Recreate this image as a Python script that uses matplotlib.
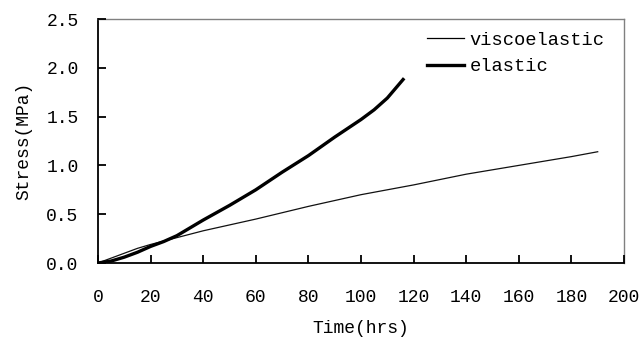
import matplotlib
matplotlib.use("Agg")
import matplotlib.pyplot as plt

visco_t = [0, 5, 10, 15, 20, 25, 30, 40, 50, 60, 80, 100, 120, 140, 160, 180, 190]
visco_s = [0, 0.05, 0.10, 0.15, 0.19, 0.225, 0.26, 0.33, 0.39, 0.45, 0.58, 0.70, 0.80, 0.91, 1.00, 1.09, 1.14]

elastic_t = [0, 5, 10, 15, 20, 25, 30, 35, 40, 45, 50, 55, 60, 65, 70, 75, 80, 85, 90, 95, 100, 105, 110, 116]
elastic_s = [0, 0.02, 0.06, 0.11, 0.17, 0.22, 0.28, 0.36, 0.44, 0.515, 0.59, 0.67, 0.75, 0.84, 0.93, 1.015, 1.10, 1.195, 1.29, 1.38, 1.47, 1.57, 1.69, 1.88]

xticks = [0, 20, 40, 60, 80, 100, 120, 140, 160, 180, 200]
yticks = [0.0, 0.5, 1.0, 1.5, 2.0, 2.5]

plt.rcParams['font.family'] = ['Liberation Mono', 'DejaVu Sans Mono']

fig = plt.figure(figsize=(6.42, 3.40), dpi=100)
ax = fig.add_axes([98/642, 1-263/340, (624-98)/642, (263-19)/340])

ax.plot(visco_t, visco_s, color='#111111', lw=0.9, label='viscoelastic')
ax.plot(elastic_t, elastic_s, color='black', lw=2.4, label='elastic')

ax.set_xlim(0, 200)
ax.set_ylim(0, 2.5)
ax.set_xticks(xticks, [str(v) for v in xticks])
ax.set_yticks(yticks, [f"{v:.1f}" for v in yticks])
ax.tick_params(axis='x', which='major', direction='in', length=0,
               labelsize=13, pad=19)
ax.tick_params(axis='y', which='major', direction='in', length=0,
               labelsize=13, pad=14)

# inward tick marks drawn from the tick arrays
ax.vlines(xticks, 0, 8 / 244, transform=ax.get_xaxis_transform(),
          colors='black', linewidth=1.3, clip_on=False, zorder=5)
ax.hlines(yticks, 0, 8 / 526, transform=ax.get_yaxis_transform(),
          colors='black', linewidth=1.3, clip_on=False, zorder=5)

for s in ['top', 'right']:
    ax.spines[s].set_color('#808080')
    ax.spines[s].set_linewidth(1.0)
for s in ['left', 'bottom']:
    ax.spines[s].set_color('black')
    ax.spines[s].set_linewidth(1.3)

ax.set_xlabel('Time(hrs)', fontsize=13, labelpad=10)
ax.set_ylabel('Stress(MPa)', fontsize=13, labelpad=10)

leg = ax.legend(loc='upper right', bbox_to_anchor=(0.985, 0.995), frameon=False,
                fontsize=13.5, handlelength=2.0, handletextpad=0.3, labelspacing=0.5,
                borderaxespad=0.2)
for h in leg.legend_handles:
    h.set_color('black')

fig.savefig('out.png', dpi=100)
